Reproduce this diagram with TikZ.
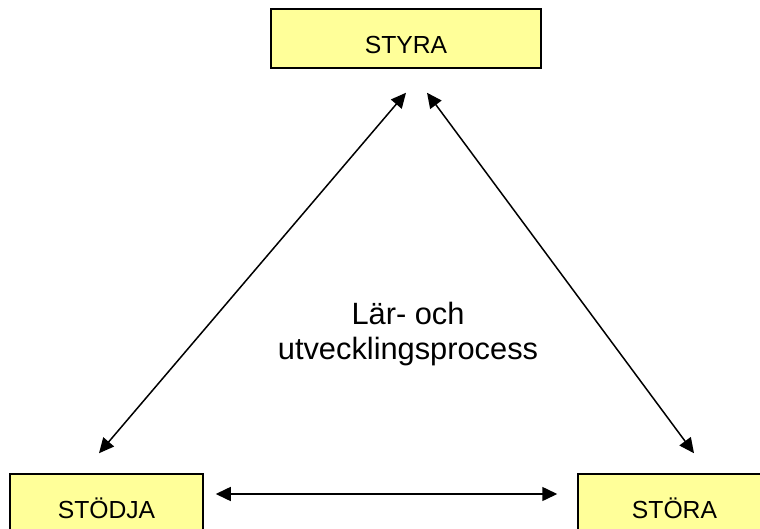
\documentclass[tikz,border=0pt]{standalone}
\usepackage{fontspec}
\setmainfont{Liberation Sans}
\usepackage{tikz}
\usetikzlibrary{arrows.meta,positioning}
\definecolor{lpyellow}{RGB}{255,255,153}
\tikzset{
  lpbox/.style={draw=black, line width=1.5pt, fill=lpyellow, align=center, inner sep=0pt,
    minimum height=59pt, text height=29.6pt, text depth=0pt, font=\fontsize{24.7}{28}\selectfont},
  lparr/.style={{Triangle[length=15pt,width=14pt]}-{Triangle[length=15pt,width=14pt]}, line width=1.5pt, draw=black}
}
\begin{document}
\begin{tikzpicture}[x=1pt, y=-1pt]
  \useasboundingbox (0,0) rectangle (760,529);
  \node[lpbox, minimum width=270pt] (styra) at (406,38.5) {STYRA};
  \node[lpbox, minimum width=193pt] (stodja) at (106.5,503.5) {STÖDJA};
  \node[lpbox, minimum width=193pt] (stora) at (674.5,503.5) {STÖRA};
  \node[align=center, inner sep=0pt, font=\fontsize{30.8}{35}\selectfont] (process) at (408,334.5) {Lär- och\\utvecklingsprocess};
  \draw[lparr] ([xshift=-7.5pt,yshift=20pt]stodja.north) -- ([yshift=-24pt]styra.south);
  \draw[lparr] ([xshift=21pt,yshift=-24pt]styra.south) -- ([xshift=19.5pt,yshift=20pt]stora.north);
  \draw[lparr] ([xshift=12pt,yshift=9.5pt]stodja.east) -- ([xshift=-20pt,yshift=9.5pt]stora.west);
\end{tikzpicture}
\end{document}
